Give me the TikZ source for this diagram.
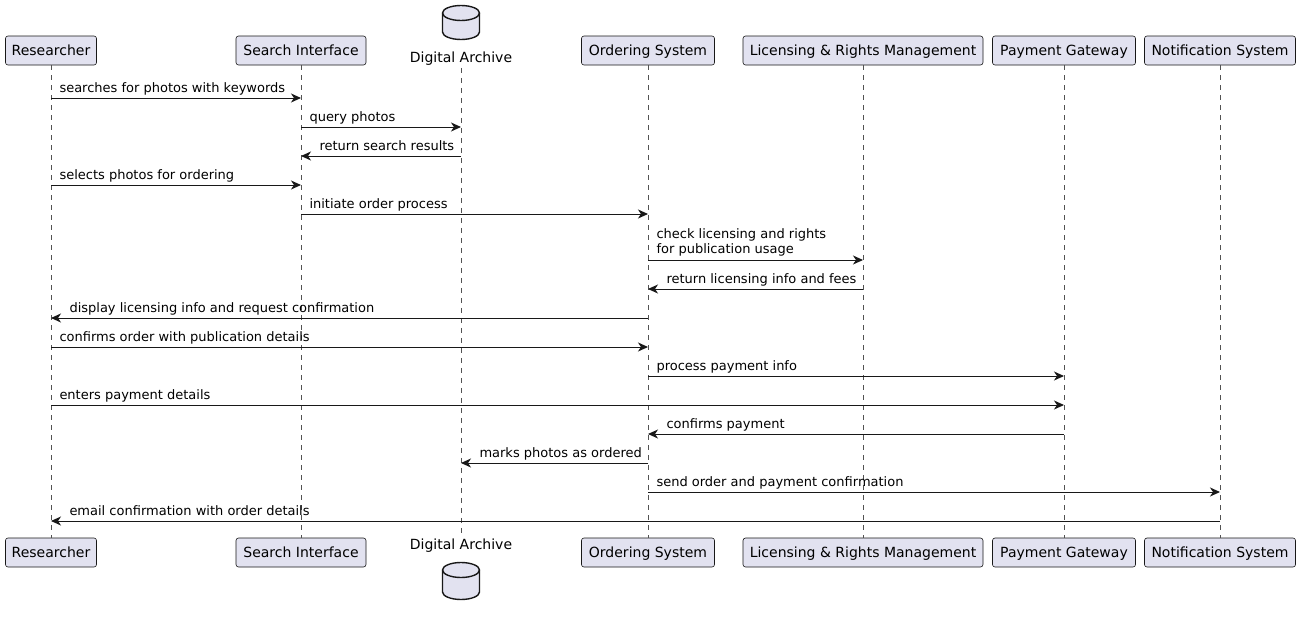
\documentclass[tikz,border=0pt]{standalone}
\usepackage{fontspec}
\setmainfont{DejaVu Sans}
\usetikzlibrary{arrows.meta}
\definecolor{ln}{HTML}{181818}
\definecolor{pbg}{HTML}{E2E2F0}
\newcommand\umlfont{\fontsize{13}{15}\selectfont}
\newcommand\umlpfont{\fontsize{14}{16}\selectfont}
\newcommand\umsgR[4]{\draw[msg] (#1 |- #3) -- (#2 |- #3) node[lab,pos=0,anchor=base west,xshift=8pt,yshift=6pt] (t#3) {#4};}
\newcommand\umsgL[4]{\draw[msg] (#1 |- #3) -- (#2 |- #3) node[lab,pos=1,anchor=base west,xshift=18pt,yshift=6pt] (t#3) {#4};}
\begin{document}
\begin{tikzpicture}[x=1pt,y=1pt,
  part/.style={draw=ln, fill=pbg, rounded corners=2.5pt, minimum height=29pt, inner sep=0pt, line width=0.6pt, font=\umlpfont, text height=12.5pt, text depth=2pt},
  plab/.style={font=\umlpfont, inner sep=0pt, text=black},
  life/.style={draw=ln!75, line width=0.6pt, dash pattern=on 5pt off 5pt},
  msg/.style={draw=ln, line width=1pt, -{Stealth[length=10pt,width=9pt,inset=3pt]}},
  lab/.style={font=\umlfont, inner sep=0pt, text=black},
  cyl/.style={draw=ln, fill=pbg, line width=1.4pt}]
\useasboundingbox (0,0) rectangle (1301,-616);
\fill[white] (0,0) rectangle (1301,-616);
% participants top
\node[part, minimum width=91pt]  (rT) at (51,-50.5)   {Researcher};
\node[part, minimum width=130pt] (sT) at (301,-50.5)  {Search Interface};
\node[plab]                      (dT) at (461,-59)    {Digital Archive};
\node[part, minimum width=133pt] (oT) at (648,-50.5)  {Ordering System};
\node[part, minimum width=240pt] (lT) at (863,-50.5)  {Licensing \& Rights Management};
\node[part, minimum width=143pt] (pT) at (1064,-50.5) {Payment Gateway};
\node[part, minimum width=151pt] (nT) at (1220,-50.5) {Notification System};
% participants bottom
\node[part, minimum width=91pt]  (rB) at (51,-552.5)   {Researcher};
\node[part, minimum width=130pt] (sB) at (301,-552.5)  {Search Interface};
\node[plab]                      (dB) at (461,-546)    {Digital Archive};
\node[part, minimum width=133pt] (oB) at (648,-552.5)  {Ordering System};
\node[part, minimum width=240pt] (lB) at (863,-552.5)  {Licensing \& Rights Management};
\node[part, minimum width=143pt] (pB) at (1064,-552.5) {Payment Gateway};
\node[part, minimum width=151pt] (nB) at (1220,-552.5) {Notification System};
% database cylinders
\draw[cyl] (442.5,-13) -- (442.5,-32) arc (180:360:18.5 and 7.5) -- (479.5,-13) arc (0:180:18.5 and 7.5) -- cycle;
\draw[cyl, fill=none] (442.5,-13) arc (180:360:18.5 and 7.5);
\draw[cyl] (442.5,-570) -- (442.5,-592) arc (180:360:18.5 and 7.5) -- (479.5,-570) arc (0:180:18.5 and 7.5) -- cycle;
\draw[cyl, fill=none] (442.5,-570) arc (180:360:18.5 and 7.5);
% lifelines
\draw[life] (rT.south) -- (rB.north);
\draw[life] (sT.south) -- (sB.north);
\draw[life] ([yshift=-2pt]dT.south) -- ([yshift=2pt]dB.north);
\draw[life] (oT.south) -- (oB.north);
\draw[life] (lT.south) -- (lB.north);
\draw[life] (pT.south) -- (pB.north);
\draw[life] (nT.south) -- (nB.north);
% message levels
\coordinate (m1) at (0,-98);
\coordinate (m2) at (0,-127);
\coordinate (m3) at (0,-156);
\coordinate (m4) at (0,-185);
\coordinate (m5) at (0,-214);
\coordinate (m6) at (0,-260);
\coordinate (m7) at (0,-289);
\coordinate (m8) at (0,-318);
\coordinate (m9) at (0,-347);
\coordinate (m10) at (0,-376);
\coordinate (m11) at (0,-405);
\coordinate (m12) at (0,-434);
\coordinate (m13) at (0,-463);
\coordinate (m14) at (0,-492);
\coordinate (m15) at (0,-521);
% messages
\umsgR{rT}{sT}{m1}{searches for photos with keywords}
\umsgR{sT}{dT}{m2}{query photos}
\umsgL{dT}{sT}{m3}{return search results}
\umsgR{rT}{sT}{m4}{selects photos for ordering}
\umsgR{sT}{oT}{m5}{initiate order process}
\draw[msg] (oT |- m6) -- (lT |- m6) node[lab,pos=0,anchor=south west,align=left,xshift=8pt,yshift=3.5pt] (tm6) {check licensing and rights\\for publication usage};
\umsgL{lT}{oT}{m7}{return licensing info and fees}
\umsgL{oT}{rT}{m8}{display licensing info and request confirmation}
\umsgR{rT}{oT}{m9}{confirms order with publication details}
\umsgR{oT}{pT}{m10}{process payment info}
\umsgR{rT}{pT}{m11}{enters payment details}
\umsgL{pT}{oT}{m12}{confirms payment}
\umsgL{oT}{dT}{m13}{marks photos as ordered}
\umsgR{oT}{nT}{m14}{send order and payment confirmation}
\umsgL{nT}{rT}{m15}{email confirmation with order details}
\end{tikzpicture}
\end{document}
